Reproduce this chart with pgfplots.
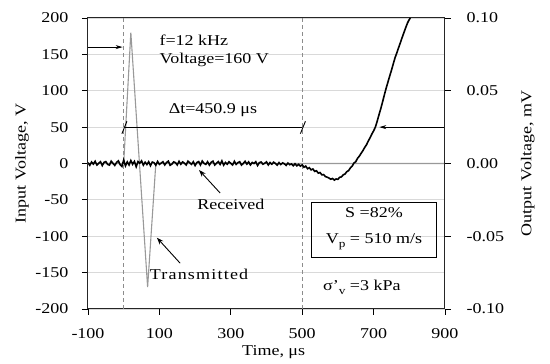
\documentclass[border=0pt]{standalone}
\usepackage{fontspec}
\setmainfont{Liberation Serif}[FakeStretch=1.2]
\usepackage{pgfplots}
\pgfplotsset{compat=1.18}
\usetikzlibrary{arrows.meta}
\pgfplotstableread{
x y
-100 0.0006
-95 -0.0012
-90 0.0010
-85 -0.0004
-80 0.0015
-75 -0.0010
-70 0.0002
-65 0.0012
-60 -0.0014
-55 0.0008
-50 0.0013
-45 -0.0006
-40 -0.0011
-35 0.0016
-30 0.0001
-25 -0.0013
-20 0.0007
-15 0.0018
-10 -0.0008
-5 -0.0020
0 0.0024
5 -0.0016
10 0.0011
15 -0.0010
20 0.0020
25 -0.0005
30 0.0014
35 -0.0022
40 0.0013
45 0.0002
50 0.0018
55 -0.0011
60 0.0009
65 -0.0007
70 0.0012
75 -0.0015
80 0.0010
85 0.0005
90 -0.0012
95 0.0014
100 -0.0006
105 0.0003
110 0.0012
115 -0.0010
120 0.0007
125 0.0016
130 -0.0012
135 -0.0004
140 0.0011
145 0.0006
150 -0.0010
155 0.0015
160 -0.0005
165 0.0011
170 0.0002
175 -0.0010
180 0.0016
185 0.0005
190 -0.0006
195 0.0012
200 -0.0014
205 0.0007
210 0.0013
215 -0.0010
220 0.0017
225 0.0001
230 -0.0006
235 0.0012
240 -0.0011
245 0.0008
250 0.0016
255 -0.0010
260 0.0002
265 0.0013
270 -0.0006
275 0.0018
280 -0.0011
285 0.0007
290 -0.0005
295 0.0012
300 0.0001
305 -0.0010
310 0.0015
315 -0.0006
320 0.0006
325 0.0012
330 -0.0011
335 0.0001
340 0.0015
345 -0.0004
350 0.0011
355 -0.0010
360 0.0007
365 0.0000
370 0.0012
375 -0.0014
380 0.0006
385 0.0010
390 -0.0005
395 0.0002
400 0.0011
405 -0.0010
410 0.0007
415 -0.0005
420 0.0009
425 0.0000
430 -0.0011
435 0.0006
440 -0.0007
445 0.0004
450 -0.0002
455 -0.0013
460 0.0003
465 -0.0008
470 -0.0003
475 -0.0015
480 -0.0002
485 -0.0016
490 -0.0006
495 -0.0018
500 -0.0009
505 -0.0026
510 -0.0018
515 -0.0036
520 -0.0029
525 -0.0044
530 -0.0038
535 -0.0054
540 -0.0050
545 -0.0066
550 -0.0062
555 -0.0078
560 -0.0076
565 -0.0090
570 -0.0094
575 -0.0100
580 -0.0108
585 -0.0103
590 -0.0114
595 -0.0106
600 -0.0109
605 -0.0095
610 -0.0092
615 -0.0078
620 -0.0072
625 -0.0056
630 -0.0049
635 -0.0030
640 -0.0018
645 0.0003
650 0.0012
655 0.0036
660 0.0050
665 0.0070
670 0.0088
675 0.0110
680 0.0128
685 0.0154
690 0.0176
695 0.0202
700 0.0224
705 0.0250
710 0.0290
715 0.0334
720 0.0376
725 0.0422
730 0.0470
735 0.0516
740 0.0558
745 0.0600
750 0.0640
755 0.0684
760 0.0726
765 0.0760
770 0.0796
775 0.0830
780 0.0866
785 0.0900
790 0.0934
795 0.0966
800 0.0990
803 0.1000
}\received
\pgfplotstableread{
x y
-100 0
0 0
20 180
67 -170
90 0
900 0
}\transmitted
\newcommand\af{\fontsize{15}{18}\selectfont}
\newcommand\sub[1]{\raisebox{-0.55ex}{\fontsize{11}{13}\selectfont #1}}
\begin{document}
\begin{tikzpicture}
\useasboundingbox (0,0) rectangle (550pt,364pt);
\pgfplotsset{
  common/.style={
    at={(88pt,55pt)}, anchor=south west, scale only axis,
    width=357pt, height=291pt,
    xmin=-100, xmax=900,
    tick align=outside, major tick length=6pt,
    tick style={black, line width=0.8pt},
    axis line style={black!85, line width=1pt},
    /pgf/number format/assume math mode=true,
    ticklabel style={font=\af},
    label style={font=\af},
  }
}
\begin{axis}[common,
  ymin=-200, ymax=200,
  xtick={-100,100,...,900}, ytick={-200,-150,...,200},
  xtick pos=bottom, ytick pos=left,
  xticklabel style={yshift=-10pt},
  yticklabel style={xshift=-10pt},
  ymajorgrids, grid style={gray!30, line width=0.8pt},
  xlabel={Time, μs},
  xlabel style={at={(axis description cs:0.52,-0.148)}, anchor=center},
  ylabel={Input Voltage, V},
  ylabel style={at={(axis description cs:-0.185,0.5)}, anchor=center},
]
\draw[gray!90, line width=1pt, dash pattern=on 4pt off 3pt] (axis cs:0,-200) -- (axis cs:0,200);
\draw[gray!90, line width=1pt, dash pattern=on 4pt off 3pt] (axis cs:500,-200) -- (axis cs:500,200);
\addplot[gray!80, line width=1.1pt, no marks] table {\transmitted};
% annotations
\draw[black, line width=0.9pt, -{Stealth[length=7pt,width=4pt]}] (axis cs:-100,160) -- (axis cs:-3,160);
\node[anchor=west, inner sep=0pt, font=\af] at (axis cs:100,170) {f=12 kHz};
\node[anchor=west, inner sep=0pt, font=\af] at (axis cs:100,142) {Voltage=160 V};
\draw[black, line width=0.9pt] (axis cs:0,50) -- (axis cs:500,50);
\draw[black, line width=0.9pt] (axis cs:-5,41) -- (axis cs:9,58);
\draw[black, line width=0.9pt] (axis cs:495,41) -- (axis cs:509,58);
\node[inner sep=0pt, font=\af] at (axis cs:250,73) {Δt=450.9 μs};
\draw[black, line width=0.9pt, -{Stealth[length=7pt,width=4pt]}] (axis cs:900,50) -- (axis cs:716,50);
\draw[black, line width=0.9pt, -{Stealth[length=7pt,width=5pt]}] (axis cs:270,-40.5) -- (axis cs:211,-9);
\node[inner sep=0pt, font=\af] at (axis cs:300,-56) {Received};
\draw[black, line width=0.9pt, -{Stealth[length=7pt,width=5pt]}] (axis cs:158,-137) -- (axis cs:93,-102);
\node[inner sep=0pt, font=\af\addfontfeature{LetterSpace=8}] at (axis cs:211,-153) {Transmitted};
\draw[black, line width=0.8pt] (axis cs:527,-53) rectangle (axis cs:875,-128.5);
\node[inner sep=0pt, font=\af] at (axis cs:701,-68) {S =82\%};
\node[inner sep=0pt, font=\af] at (axis cs:701,-108) {V\sub{p} = 510 m/s};
\node[inner sep=0pt, font=\af] at (axis cs:667,-170) {σ'\sub{v} =3 kPa};
\end{axis}
\begin{axis}[common,
  ymin=-0.1, ymax=0.1,
  axis x line=none, axis y line*=right,
  ytick={-0.1,-0.05,0,0.05,0.1},
  yticklabel style={xshift=12pt, /pgf/number format/.cd, fixed, fixed zerofill, precision=2},
  ylabel={Output Voltage,  mV},
  ylabel style={at={(axis description cs:1.232,0.5)}, anchor=center},
]
\addplot[black, line width=1.6pt, no marks] table {\received};
\end{axis}
\end{tikzpicture}
\end{document}
